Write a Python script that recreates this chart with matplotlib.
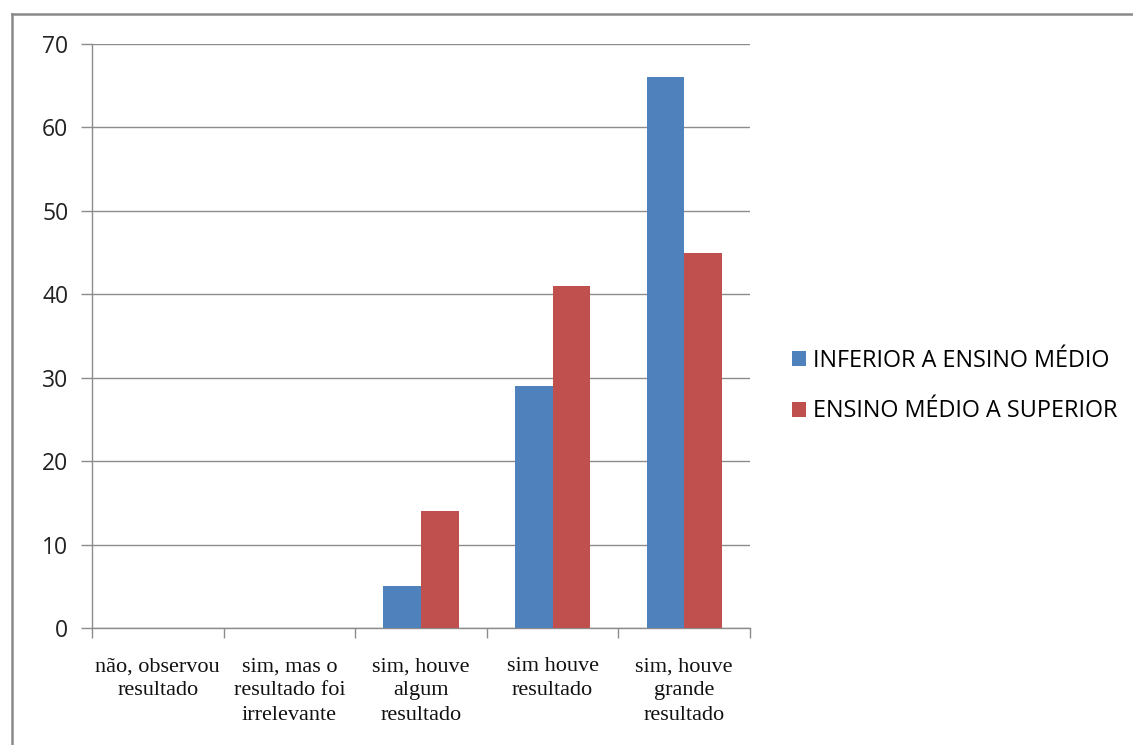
import matplotlib
matplotlib.use("Agg")
import matplotlib.pyplot as plt
import numpy as np
from matplotlib.patches import Patch
from matplotlib.lines import Line2D

categories = [
    "não, observou\nresultado",
    "sim, mas o\nresultado foi\nirrelevante",
    "sim, houve\nalgum\nresultado",
    "sim houve\nresultado",
    "sim, houve\ngrande\nresultado",
]
series_names = ["INFERIOR A ENSINO MÉDIO", "ENSINO MÉDIO A SUPERIOR"]
inferior = [0, 0, 5, 29, 66]
medio_superior = [0, 0, 14, 41, 45]
y_ticks = [0, 10, 20, 30, 40, 50, 60, 70]

colors = ["#4F81BD", "#C0504D"]
grid_color = "#8C8C8C"

W, H = 1133, 745
fig = plt.figure(figsize=(W / 100, H / 100), dpi=100)
fig.patch.set_facecolor("white")

# outer chart frame (top and left edges visible)
fig.add_artist(Line2D([12 / W, 1.0], [1 - 14 / H, 1 - 14 / H], color="#8A8A8A", lw=1.8,
                      transform=fig.transFigure))
fig.add_artist(Line2D([12 / W, 12 / W], [0.0, 1 - 14 / H], color="#8A8A8A", lw=1.8,
                      transform=fig.transFigure))

ax = fig.add_axes([92 / W, 1 - 628 / H, (750 - 92) / W, (628 - 44) / H])

n = len(categories)
x = np.arange(n)
bw = 1 / 3.5
ax.bar(x - bw / 2, inferior, width=bw, color=colors[0], label=series_names[0], zorder=3)
ax.bar(x + bw / 2, medio_superior, width=bw, color=colors[1], label=series_names[1], zorder=3)

ax.set_xlim(-0.5, n - 0.5)
ax.set_ylim(0, 70)
ax.set_yticks(y_ticks)
ax.set_yticklabels([str(v) for v in y_ticks], fontfamily="Open Sans", fontsize=16.5, color="#222222")
ax.yaxis.grid(True, color=grid_color, lw=1.0, zorder=0)
ax.set_axisbelow(True)

# category labels centered, tick marks at group boundaries
ax.set_xticks(x)
ax.set_xticklabels(categories, fontfamily="Liberation Serif", fontsize=16, color="#111111",
                   linespacing=1.38)
ax.tick_params(axis="x", length=0, pad=21)
ax.set_xticks(np.arange(-0.5, n, 1.0), minor=True)
ax.tick_params(axis="x", which="minor", length=7, width=1, color=grid_color, direction="out")
ax.tick_params(axis="y", length=8, width=1, color=grid_color, direction="out", pad=9)

for s in ["top", "right"]:
    ax.spines[s].set_visible(False)
for s in ["left", "bottom"]:
    ax.spines[s].set_color(grid_color)
    ax.spines[s].set_linewidth(1.0)

handles = [Patch(facecolor=c, edgecolor="none") for c in colors]
fig.legend(handles, series_names, loc="center left", bbox_to_anchor=(792 / W, 1 - 386 / H),
           frameon=False, prop={"family": "Open Sans", "size": 16.8},
           handlelength=0.6, handleheight=0.6, handletextpad=0.3, labelspacing=1.15,
           borderaxespad=0, borderpad=0)

fig.savefig("out.png", dpi=100)
